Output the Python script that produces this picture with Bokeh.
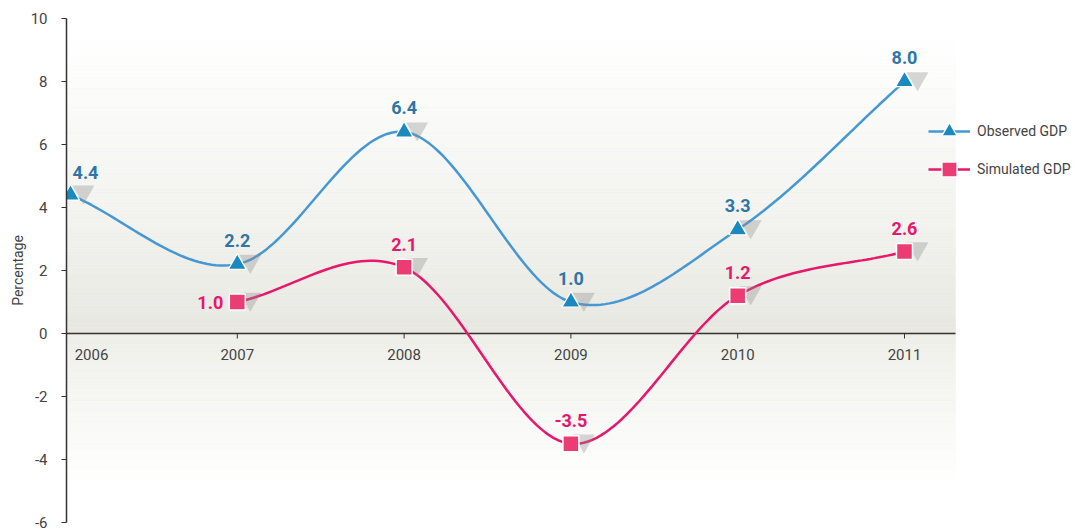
import numpy as np
from bokeh.plotting import figure
from bokeh.models import Range1d, FixedTicker, ColumnDataSource, Legend, LegendItem
from bokeh.embed import file_html
from bokeh.resources import INLINE
from bokeh.core.properties import value

# ---------------- data ----------------
years = [2006, 2007, 2008, 2009, 2010, 2011]
year_labels = ["2006", "2007", "2008", "2009", "2010", "2011"]
observed = [4.4, 2.2, 6.4, 1.0, 3.3, 8.0]
simulated = [None, 1.0, 2.1, -3.5, 1.2, 2.6]
y_ticks = [-6, -4, -2, 0, 2, 4, 6, 8, 10]
series_names = ["Observed GDP", "Simulated GDP"]

# ---------------- layout constants ----------------
W, H = 1076, 531
LEFT, TOP, BOTTOM = 66, 18, 9
FRAME_W = W - LEFT
FRAME_H = H - TOP - BOTTOM
Y0, Y1 = -6, 10
PX_YEAR = 166.8
X0 = years[0] - 4 / PX_YEAR
X1 = X0 + FRAME_W / PX_YEAR
X_BG_END = X0 + 889 / PX_YEAR
PX_UNIT = FRAME_H / (Y1 - Y0)

FONT = "Roboto"
BLUE_LINE = "#4598d4"
BLUE_FILL = "#1a89bf"
BLUE_TEXT = "#2f76a6"
PINK_LINE = "#e8176b"
PINK_FILL = "#ec3c74"
PINK_TEXT = "#e8176b"
GREY = "#444444"

p = figure(width=W, height=H, output_backend="svg", toolbar_location=None,
           x_range=Range1d(X0, X1), y_range=Range1d(Y0, Y1),
           min_border_left=LEFT, min_border_right=0, min_border_top=TOP,
           min_border_bottom=BOTTOM)
p.outline_line_color = None
p.grid.visible = False
p.xaxis.visible = False
p.background_fill_color = "white"

# ---------------- background gradient band ----------------
def mix(c1, c2, t):
    a = np.array([int(c1[i:i + 2], 16) for i in (1, 3, 5)], float)
    b = np.array([int(c2[i:i + 2], 16) for i in (1, 3, 5)], float)
    c = a + (b - a) * t
    return "#%02x%02x%02x" % tuple(int(round(v)) for v in c)

edges = np.linspace(Y0, Y1, 161)
bg_cols = []
for lo, hi in zip(edges[:-1], edges[1:]):
    ym = (lo + hi) / 2
    if ym >= 0:
        t = min(ym / 9.5, 1.0) ** 0.8
        bg_cols.append(mix("#e7e7e0", "#ffffff", t))
    else:
        t = min(-ym / 4.8, 1.0) ** 0.9
        bg_cols.append(mix("#eeeee8", "#ffffff", t))
p.quad(left=X0, right=X_BG_END, bottom=edges[:-1], top=edges[1:],
       fill_color=bg_cols, line_color=bg_cols, line_width=0.5)

# ---------------- x axis (at zero) ----------------
p.segment(x0=[X0], y0=[0], x1=[X_BG_END], y1=[0], line_color="#333333", line_width=1.5)
p.segment(x0=years[1:], y0=0, x1=years[1:], y1=-5 / PX_UNIT, line_color="#333333", line_width=1)
lab_src = ColumnDataSource(dict(x=years, y=[0] * len(years), t=year_labels,
                                xo=[21, 0, 0, 0, 0, 0]))
p.text(x="x", y="y", text="t", x_offset="xo", y_offset=21, source=lab_src,
       text_align="center", text_baseline="middle", text_font=value(FONT),
       text_font_size="15px", text_color=GREY)

# ---------------- y axis ----------------
ya = p.yaxis[0]
ya.ticker = FixedTicker(ticks=y_ticks)
ya.major_label_overrides = {v: str(v) for v in y_ticks}
ya.minor_tick_line_color = None
ya.major_tick_in = 0
ya.major_tick_out = 5
ya.axis_line_color = "#333333"
ya.axis_line_width = 1.5
ya.major_tick_line_color = "#333333"
ya.major_label_text_font = FONT
ya.major_label_text_font_size = "15px"
ya.major_label_text_color = GREY
ya.major_label_standoff = 14
ya.axis_label = "Percentage"
ya.axis_label_text_font = FONT
ya.axis_label_text_font_style = "normal"
ya.axis_label_text_font_size = "14px"
ya.axis_label_text_color = GREY
ya.axis_label_standoff = 2

# ---------------- smooth curves ----------------
def spline(xs, ys, n=40):
    pts = [(x, y) for x, y in zip(xs, ys) if y is not None]
    X = np.array([q[0] for q in pts], float)
    Y = np.array([q[1] for q in pts], float)
    k = len(X)
    mx = np.zeros(k); my = np.zeros(k)
    for i in range(k):
        if i == 0:
            mx[i], my[i] = X[1] - X[0], Y[1] - Y[0]
        elif i == k - 1:
            mx[i], my[i] = X[-1] - X[-2], Y[-1] - Y[-2]
        else:
            mx[i], my[i] = (X[i + 1] - X[i - 1]) / 2, (Y[i + 1] - Y[i - 1]) / 2
    ox, oy = [], []
    t = np.linspace(0, 1, n)
    h00 = 2 * t**3 - 3 * t**2 + 1
    h10 = t**3 - 2 * t**2 + t
    h01 = -2 * t**3 + 3 * t**2
    h11 = t**3 - t**2
    for i in range(k - 1):
        ox.extend(h00 * X[i] + h10 * mx[i] + h01 * X[i + 1] + h11 * mx[i + 1])
        oy.extend(h00 * Y[i] + h10 * my[i] + h01 * Y[i + 1] + h11 * my[i + 1])
    return ox, oy

bx, by = spline(years, observed)
sx, sy = spline(years, simulated)
obs_line = p.line(bx, by, line_color=BLUE_LINE, line_width=2.5)
sim_line = p.line(sx, sy, line_color=PINK_LINE, line_width=2.5)

# ---------------- markers with shadows ----------------
shift = 13 / PX_YEAR
lift = 3 / PX_UNIT
obs_src = ColumnDataSource(dict(x=years, y=observed, xs=[v + shift for v in years],
                                ys=[v + lift for v in observed],
                                t=["%.1f" % v for v in observed],
                                xo=[15, 0, 0, 0, 0, 0], yo=[-22, -24, -24, -24, -24, -24]))
sim_years = [y for y, v in zip(years, simulated) if v is not None]
sim_vals = [v for v in simulated if v is not None]
sim_src = ColumnDataSource(dict(x=sim_years, y=sim_vals, xs=[v + shift for v in sim_years],
                                ys=[v + lift for v in sim_vals],
                                t=["%.1f" % v for v in sim_vals],
                                xo=[-27, 0, 0, 0, 0], yo=[0, -23, -23, -23, -23]))

for src in (obs_src, sim_src):
    p.scatter(x="xs", y="ys", source=src, marker="inverted_triangle", size=22,
              fill_color="#8c8c8c", fill_alpha=0.35, line_color=None)

obs_mk = p.scatter(x="x", y="y", source=obs_src, marker="triangle", size=18,
                   fill_color=BLUE_FILL, line_color="white", line_width=1.2)
sim_mk = p.scatter(x="x", y="y", source=sim_src, marker="square", size=16,
                   fill_color=PINK_FILL, line_color="white", line_width=1.5)

p.text(x="x", y="y", text="t", x_offset="xo", y_offset="yo", source=obs_src,
       text_align="center", text_baseline="middle", text_font=value(FONT),
       text_font_style="bold", text_font_size="18px", text_color=BLUE_TEXT)
p.text(x="x", y="y", text="t", x_offset="xo", y_offset="yo", source=sim_src,
       text_align="center", text_baseline="middle", text_font=value(FONT),
       text_font_style="bold", text_font_size="18px", text_color=PINK_TEXT)

# ---------------- legend ----------------
legend = Legend(items=[LegendItem(label=series_names[0], renderers=[obs_line, obs_mk]),
                       LegendItem(label=series_names[1], renderers=[sim_line, sim_mk])],
                location=(862, 334), orientation="vertical",
                glyph_width=42, glyph_height=38, label_standoff=7, spacing=0,
                padding=0, margin=0, border_line_color=None, background_fill_alpha=0,
                label_text_font=FONT, label_text_font_size="14px", label_text_color=GREY)
p.add_layout(legend)

open("out.html", "w").write(file_html(p, INLINE))
